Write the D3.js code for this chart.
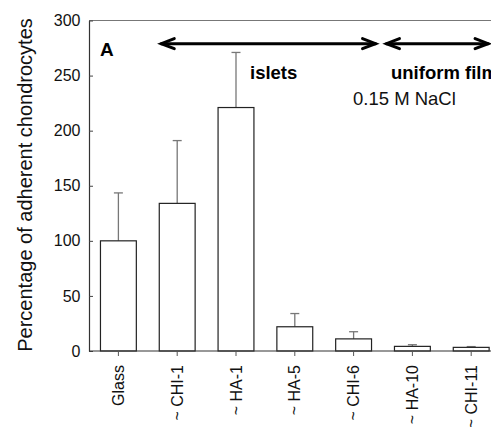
<!DOCTYPE html>
<html>
<head>
<meta charset="utf-8">
<script src="https://cdn.jsdelivr.net/npm/d3@7"></script>
<style>
  body { margin: 0; background: #fff; }
  text { font-family: Arial, "Liberation Sans", sans-serif; }
</style>
</head>
<body>
<div id="chart"></div>
<script>
// values
var categories = ["Glass", "~ CHI-1", "~ HA-1", "~ HA-5", "~ CHI-6", "~ HA-10", "~ CHI-11"];
var means = [100, 134, 221, 22, 11, 4.2, 3.3];
var upper = [143.5, 191, 271, 34, 17.5, 5.7, 4];
var yTicks = [0, 50, 100, 150, 200, 250, 300];

var svg = d3.select("#chart").append("svg")
    .attr("width", 491)
    .attr("height", 427);

var plotLeft = 89, plotTop = 20.5, plotBottom = 351;
var step = 58.8;

var x = d3.scaleBand()
    .domain(categories)
    .range([plotLeft, plotLeft + step * categories.length])
    .paddingInner(0.39)
    .paddingOuter(0.195);
var y = d3.scaleLinear().domain([0, 300]).range([plotBottom, plotTop]);

// top frame line
svg.append("line")
    .attr("x1", plotLeft).attr("x2", 491)
    .attr("y1", y(300)).attr("y2", y(300))
    .attr("stroke", "#777").attr("stroke-width", 1.2);

// error bars (upper only)
var eb = svg.append("g").attr("stroke", "#777").attr("stroke-width", 1.3);
categories.forEach(function(c, i) {
    var cx = x(c) + x.bandwidth() / 2;
    eb.append("line").attr("x1", cx).attr("x2", cx)
        .attr("y1", y(means[i])).attr("y2", y(upper[i]));
    eb.append("line").attr("x1", cx - 4.5).attr("x2", cx + 4.5)
        .attr("y1", y(upper[i])).attr("y2", y(upper[i]));
});

// bars
svg.selectAll(".bar")
    .data(categories)
    .enter()
    .append("rect")
    .attr("class", "bar")
    .attr("x", function(d) { return x(d); })
    .attr("y", function(d, i) { return y(means[i]); })
    .attr("width", x.bandwidth())
    .attr("height", function(d, i) { return plotBottom - y(means[i]); })
    .attr("fill", "#fff")
    .attr("stroke", "#222")
    .attr("stroke-width", 1.2);

// y axis, ticks point inward
var yAxis = svg.append("g")
    .attr("transform", "translate(" + plotLeft + ",0)")
    .call(d3.axisLeft(y).tickValues(yTicks).tickSize(-4).tickSizeOuter(0));
yAxis.select(".domain").attr("stroke", "#333").attr("stroke-width", 1.2);
yAxis.selectAll(".tick line").attr("stroke", "#444");
yAxis.selectAll(".tick text")
    .attr("font-size", "16px")
    .attr("fill", "#111")
    .attr("x", -8.5);

// x axis
var xAxis = svg.append("g")
    .attr("transform", "translate(0," + plotBottom + ")")
    .call(d3.axisBottom(x).tickSize(5).tickSizeOuter(0));
xAxis.select(".domain").attr("stroke", "#333").attr("stroke-width", 1.2)
    .attr("d", "M" + plotLeft + ",0H491");
xAxis.selectAll(".tick line").attr("stroke", "#555");
xAxis.selectAll(".tick text")
    .attr("font-size", "16px")
    .attr("fill", "#111")
    .attr("transform", "rotate(-90)")
    .attr("text-anchor", "end")
    .attr("x", -14)
    .attr("y", 0)
    .attr("dy", "0.35em");

// y axis title
svg.append("text")
    .attr("transform", "translate(32,185) rotate(-90)")
    .attr("text-anchor", "middle")
    .attr("font-size", "20px")
    .attr("fill", "#111")
    .text("Percentage of adherent chondrocytes");

// panel letter
svg.append("text")
    .attr("x", 100).attr("y", 55.5)
    .attr("font-size", "19px").attr("font-weight", "bold")
    .text("A");

// arrows
function arrow(x1, x2, yy) {
    var g = svg.append("g").attr("stroke", "#000").attr("stroke-width", 3)
        .attr("fill", "none").attr("stroke-linecap", "round");
    g.append("line").attr("x1", x1).attr("x2", x2).attr("y1", yy).attr("y2", yy);
    g.append("path").attr("d", "M" + (x1 + 13) + "," + (yy - 5) + "L" + x1 + "," + yy + "L" + (x1 + 13) + "," + (yy + 5));
    g.append("path").attr("d", "M" + (x2 - 13) + "," + (yy - 5) + "L" + x2 + "," + yy + "L" + (x2 - 13) + "," + (yy + 5));
}
var ay = y(279);
arrow(x("~ CHI-1") + 2, x("~ CHI-6") + x.bandwidth() + 4, ay);
arrow(x("~ HA-10") - 8, x("~ CHI-11") + x.bandwidth() - 1, ay);

svg.append("text")
    .attr("x", 250).attr("y", 79)
    .attr("font-size", "18.5px").attr("font-weight", "bold")
    .text("islets");
svg.append("text")
    .attr("x", 391).attr("y", 79)
    .attr("font-size", "18.5px").attr("font-weight", "bold")
    .text("uniform film");
svg.append("text")
    .attr("x", 353).attr("y", 105)
    .attr("font-size", "18.5px")
    .attr("fill", "#111")
    .text("0.15 M NaCl");
</script>
</body>
</html>
